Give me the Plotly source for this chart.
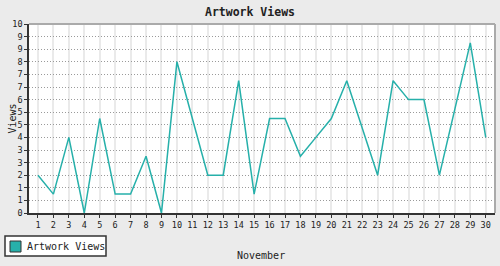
import plotly.graph_objects as go

# ---- data ----
days = list(range(1, 31))
views = [2, 1, 4, 0, 5, 1, 1, 3, 0, 8, 5, 2, 2, 7, 1, 5, 5, 3, 4, 5,
         7, 4.5, 2, 7, 6, 6, 2, 5.5, 9, 4]
y_tickvals = [i * 10 / 15 for i in range(16)]
y_ticktext = [str(int(v + 0.5)) for v in y_tickvals]
x_tickvals = days
x_ticktext = [str(d) for d in days]
series_name = "Artwork Views"
chart_title = "Artwork Views"
x_title = "November"
y_title = "Views"

# ---- layout constants (pixels) ----
W, H = 500, 266
ML, MR, MT, MB = 29, 5, 24, 53
PW, PH = W - ML - MR, H - MT - MB
TEAL = "#26B0AA"
FONT = "DejaVu Sans Mono"


def px_x(x):
    return (x - ML) / PW


def px_y(y):
    return (H - MB - y) / PH


fig = go.Figure()
fig.add_trace(go.Scatter(
    x=days, y=views, mode="lines", name=series_name,
    line=dict(color=TEAL, width=1.5), showlegend=False,
))

fig.update_layout(
    width=W, height=H,
    margin=dict(l=ML, r=MR, t=MT, b=MB),
    paper_bgcolor="#EBEBEB",
    plot_bgcolor="#FFFFFF",
    font=dict(family=FONT, color="#222222"),
    title=dict(text="<b>%s</b>" % chart_title, x=0.5, xref="container",
               xanchor="center", y=1 - 12 / H, yanchor="middle",
               font=dict(size=11.5, family=FONT, color="#222222")),
    xaxis=dict(
        range=[0.42, 30.6], tickmode="array", tickvals=x_tickvals,
        ticktext=x_ticktext, ticks="outside", ticklen=3, tickcolor="#333333",
        showgrid=True, gridcolor="#EAEAEA", gridwidth=1.5,
        showline=True, linecolor="#333333", linewidth=1.5,
        tickfont=dict(size=8.5, family=FONT), zeroline=False, fixedrange=True,
    ),
    yaxis=dict(
        range=[0, 10], tickmode="array", tickvals=y_tickvals,
        ticktext=y_ticktext, ticks="outside", ticklen=3, tickcolor="#333333",
        showgrid=True, gridcolor="#9A9A9A", gridwidth=1, griddash="1px,2px",
        showline=True, linecolor="#333333", linewidth=1.5,
        tickfont=dict(size=8.5, family=FONT), zeroline=False, fixedrange=True,
    ),
    shapes=[
        # top / right frame of plot area
        dict(type="line", xref="paper", yref="paper", x0=0, x1=1, y0=1, y1=1,
             line=dict(color="#AAAAAA", width=2)),
        dict(type="line", xref="paper", yref="paper", x0=1, x1=1, y0=0, y1=1,
             line=dict(color="#AAAAAA", width=2)),
        # legend box
        dict(type="rect", xref="paper", yref="paper",
             x0=px_x(5), x1=px_x(106), y0=px_y(256), y1=px_y(236),
             fillcolor="#FFFFFF", line=dict(color="#333333", width=1.5)),
        dict(type="rect", xref="paper", yref="paper",
             x0=px_x(10), x1=px_x(21), y0=px_y(252), y1=px_y(241),
             fillcolor=TEAL, line=dict(color="#333333", width=1)),
    ],
    annotations=[
        dict(text=series_name, xref="paper", yref="paper", x=px_x(25),
             y=px_y(246.5), xanchor="left", yanchor="middle", showarrow=False,
             font=dict(size=10, family=FONT, color="#222222")),
        dict(text=x_title, xref="paper", yref="paper", x=px_x(260.5),
             y=px_y(255), xanchor="center", yanchor="middle", showarrow=False,
             font=dict(size=10, family=FONT, color="#222222")),
        dict(text=y_title, xref="paper", yref="paper", x=px_x(11.5),
             y=px_y(119), xanchor="center", yanchor="middle", showarrow=False,
             textangle=-90,
             font=dict(size=10, family=FONT, color="#222222")),
    ],
)

fig.write_html("out.html")
